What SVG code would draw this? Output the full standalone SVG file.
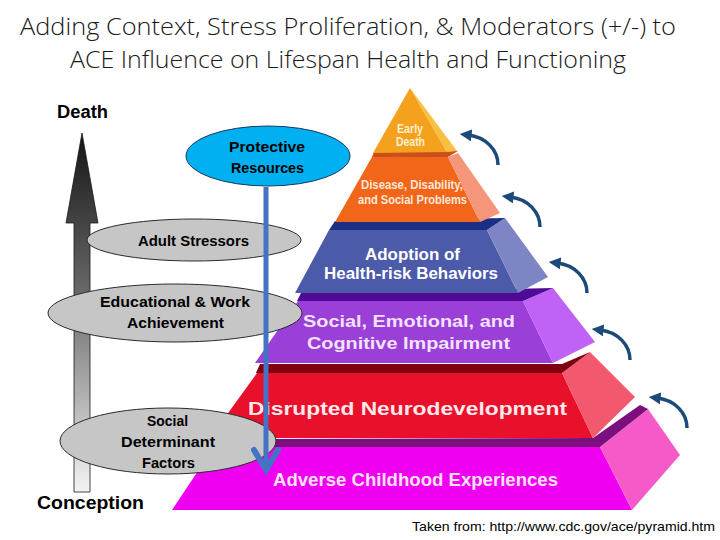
<svg xmlns="http://www.w3.org/2000/svg" width="720" height="540" viewBox="0 0 720 540">
<style>
.title{font-family:"Open Sans","Liberation Sans",sans-serif;font-weight:300;font-size:23px;fill:#1a1a1a}
.pt{font-family:"Liberation Sans",Arial,sans-serif;font-weight:bold;text-anchor:start}
.lbl{font-family:"Liberation Sans",Arial,sans-serif;font-weight:bold;font-size:18px;fill:#000}
.et{font-family:"Liberation Sans",Arial,sans-serif;font-weight:bold;font-size:14px;fill:#000}
.ell{fill:#c6c6c6;stroke:#2a2a2a;stroke-width:1}
.curve{fill:none;stroke:#1d4a78;stroke-width:3.5;marker-end:url(#head)}
.cite{font-family:"Liberation Sans",Arial,sans-serif;font-size:13px;fill:#000}
</style>
<defs>
<linearGradient id="grayArrow" x1="0" y1="0" x2="0" y2="1">
<stop offset="0" stop-color="#141414"/>
<stop offset="0.45" stop-color="#6a6a6a"/>
<stop offset="1" stop-color="#f4f4f4"/>
</linearGradient>
<marker id="head" viewBox="0 0 10 10" refX="3" refY="5" markerWidth="3.4" markerHeight="3.4" orient="auto" markerUnits="strokeWidth">
<path d="M0,0 L10,5 L0,10 z" fill="#1d4a78"/>
</marker>
</defs>
<rect width="720" height="540" fill="#ffffff"/>

<g id="title">
<text class="title" x="20" y="35" textLength="656" lengthAdjust="spacingAndGlyphs">Adding Context, Stress Proliferation, &amp; Moderators (+/-) to</text>
<text class="title" x="70" y="68" textLength="556" lengthAdjust="spacingAndGlyphs">ACE Influence on Lifespan Health and Functioning</text>
</g>

<g id="axis">
<path d="M82,133 L98,223 L90,223 L90,492 L74,492 L74,223 L66,223 Z" fill="url(#grayArrow)" stroke="#1a1a1a" stroke-width="0.8"/>
<text class="lbl" x="57" y="118" textLength="51" lengthAdjust="spacingAndGlyphs">Death</text>
<text class="lbl" x="37" y="509" textLength="107" lengthAdjust="spacingAndGlyphs">Conception</text>
</g>

<g id="pyramid">
<g id="layer-adverse">
<polygon points="214,447 600,447 632,510 172,510" fill="#f000f0"/>
<polygon points="600,447 648,409 680,455 632,510" fill="#f55ac8"/>
<polygon points="212,439 593,438 640,405 648,409 600,447 210,447" fill="#7c0f7e"/>
<text class="pt" x="273" y="486" font-size="18" fill="#ffe0ff" textLength="285" lengthAdjust="spacingAndGlyphs">Adverse Childhood Experiences</text>
</g>
<g id="layer-disrupted">
<polygon points="257,373 562,373 593,438 210,438" fill="#e8102a"/>
<polygon points="562,373 590,352 635,397 593,438" fill="#f2586e"/>
<polygon points="260,364 562,364 590,352 562,373 256,373" fill="#800012"/>
<text class="pt" x="248" y="415" font-size="19" fill="#ffe8ea" textLength="319" lengthAdjust="spacingAndGlyphs">Disrupted Neurodevelopment</text>
</g>
<g id="layer-social">
<polygon points="298,301 523,301 553,363 255,363" fill="#9a3fd8"/>
<polygon points="523,301 553,288 595,342 553,363" fill="#c062f6"/>
<polygon points="301,293 553,288 523,301 297,301" fill="#4e0a96"/>
<text class="pt" x="303" y="327" font-size="17" fill="#f4e2ff" textLength="212" lengthAdjust="spacingAndGlyphs">Social, Emotional, and</text>
<text class="pt" x="307" y="349" font-size="17" fill="#f4e2ff" textLength="203" lengthAdjust="spacingAndGlyphs">Cognitive Impairment</text>
</g>
<g id="layer-adoption">
<polygon points="329,230 487,230 518,293 295,293" fill="#4b5aa9"/>
<polygon points="487,230 505,218 548,277 518,293" fill="#7d85c5"/>
<polygon points="335,221 505,218 487,230 329,230" fill="#1c2f86"/>
<text class="pt" x="365" y="260" font-size="16" fill="#ffffff" textLength="95" lengthAdjust="spacingAndGlyphs">Adoption of</text>
<text class="pt" x="324" y="279" font-size="16" fill="#ffffff" textLength="174" lengthAdjust="spacingAndGlyphs">Health-risk Behaviors</text>
</g>
<g id="layer-disease">
<polygon points="372,157 448,157 480,222 335,222" fill="#f2661a"/>
<polygon points="448,157 458,153 500,213 480,222" fill="#f5957a"/>
<polygon points="374,152 458,151 448,157 372,157" fill="#c9501a"/>
<text class="pt" x="361" y="189" font-size="12" fill="#ffe6da" textLength="102" lengthAdjust="spacingAndGlyphs">Disease, Disability,</text>
<text class="pt" x="358" y="204" font-size="12" fill="#ffe6da" textLength="109" lengthAdjust="spacingAndGlyphs">and Social Problems</text>
</g>
<g id="layer-early">
<polygon points="410,88 447,152 373,153" fill="#f4a11d"/>
<polygon points="410,88 457,151 447,152" fill="#f8c040"/>
<text class="pt" x="397" y="133" font-size="12" fill="#fff0d0" textLength="26" lengthAdjust="spacingAndGlyphs">Early</text>
<text class="pt" x="396" y="146" font-size="12" fill="#fff0d0" textLength="29" lengthAdjust="spacingAndGlyphs">Death</text>
</g>
</g>

<g id="node-protective">
<ellipse cx="268" cy="156" rx="82" ry="30" fill="#00b0f0" stroke="#1f3864" stroke-width="1"/>
<text class="et" x="229" y="152" textLength="76" lengthAdjust="spacingAndGlyphs">Protective</text>
<text class="et" x="231" y="173" textLength="73" lengthAdjust="spacingAndGlyphs">Resources</text>
</g>
<g id="node-adult">
<ellipse class="ell" cx="194" cy="240" rx="107" ry="21"/>
<text class="et" x="138" y="246" textLength="111" lengthAdjust="spacingAndGlyphs">Adult Stressors</text>
</g>
<g id="node-education">
<ellipse class="ell" cx="175" cy="313" rx="127" ry="29"/>
<text class="et" x="100" y="307" textLength="150" lengthAdjust="spacingAndGlyphs">Educational &amp; Work</text>
<text class="et" x="127" y="328" textLength="97" lengthAdjust="spacingAndGlyphs">Achievement</text>
</g>
<g id="node-social">
<ellipse class="ell" cx="168" cy="441" rx="108" ry="33"/>
<text class="et" x="147" y="426" textLength="41" lengthAdjust="spacingAndGlyphs">Social</text>
<text class="et" x="121" y="447" textLength="94" lengthAdjust="spacingAndGlyphs">Determinant</text>
<text class="et" x="142" y="468" textLength="53" lengthAdjust="spacingAndGlyphs">Factors</text>
</g>

<g id="connectors">
<line x1="266" y1="187" x2="266" y2="468" stroke="#4472c4" stroke-width="5"/>
<polyline points="254,450 266,470 278,450" fill="none" stroke="#4472c4" stroke-width="6" stroke-linejoin="miter" stroke-linecap="round"/>
<path class="curve" d="M498,165 C498,150 486,137 468,135"/>
<path class="curve" d="M540,227 C540,212 528,199 510,197"/>
<path class="curve" d="M587,293 C587,278 575,265 557,263"/>
<path class="curve" d="M630,360 C630,345 618,332 600,330"/>
<path class="curve" d="M687,428 C687,413 675,400 657,398"/>
</g>

<text class="cite" x="412" y="531" textLength="303" lengthAdjust="spacingAndGlyphs">Taken from: http://www.cdc.gov/ace/pyramid.htm</text>
</svg>
